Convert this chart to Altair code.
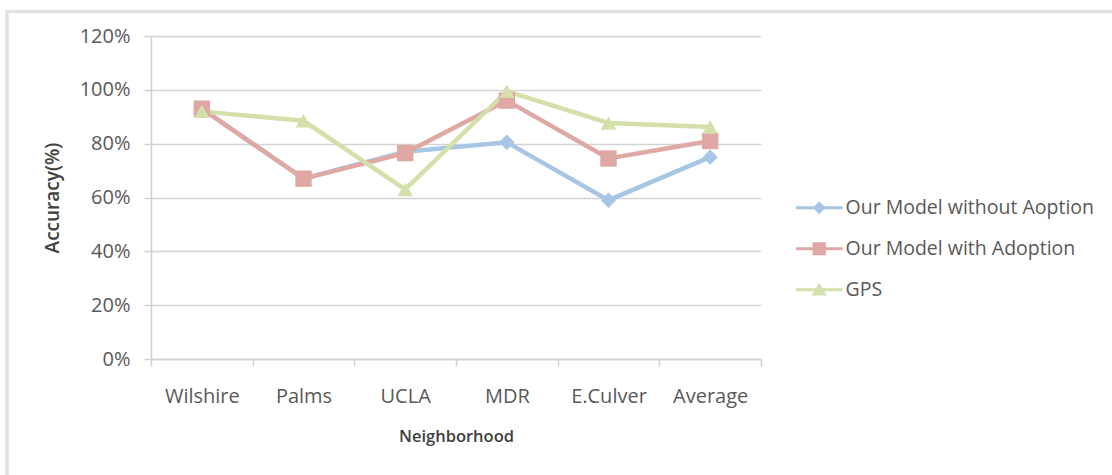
import altair as alt
import pandas as pd

neighborhoods = ["Wilshire", "Palms", "UCLA", "MDR", "E.Culver", "Average"]
series_names = ["Our Model without Aoption", "Our Model with Adoption", "GPS"]
without_adoption = [0.93, 0.67, 0.77, 0.805, 0.59, 0.75]
with_adoption = [0.93, 0.67, 0.765, 0.96, 0.745, 0.81]
gps = [0.92, 0.885, 0.63, 0.995, 0.877, 0.862]
colors = ["#a7c6e6", "#e0a8a5", "#d4e0aa"]
marker_shapes = ["diamond", "square", "triangle-up"]
marker_sizes = [240, 270, 240]
legend_paths = [
    "M-3.9,-0.25H3.9V0.25H-3.9Z M0,-1.1L1.1,0L0,1.1L-1.1,0Z",
    "M-3.9,-0.25H3.9V0.25H-3.9Z M-1.1,-1.1H1.1V1.1H-1.1Z",
    "M-3.9,-0.25H3.9V0.25H-3.9Z M0,-1.15L1.25,0.95H-1.25Z",
]

rows = []
for name, vals in zip(series_names, [without_adoption, with_adoption, gps]):
    for n, v in zip(neighborhoods, vals):
        rows.append({"Neighborhood": n, "series": name, "value": v})
df = pd.DataFrame(rows)

FONT = "Open Sans"
TFONT = "Open Sans"
color_scale = alt.Scale(domain=series_names, range=colors)

x_enc = alt.X(
    "Neighborhood:N",
    sort=neighborhoods,
    scale=alt.Scale(paddingInner=0, paddingOuter=0),
    axis=alt.Axis(
        title="Neighborhood",
        labelAngle=0,
        tickBand="extent",
        tickSize=7,
        tickColor="#d0d0d0",
        tickWidth=1.5,
        domainColor="#d0d0d0",
        domainWidth=1.5,
        labelFont=FONT,
        labelFontSize=20,
        labelColor="#595959",
        labelPadding=20,
        titleFont=TFONT,
        titleFontSize=16.5,
        titleFontWeight=600,
        titleColor="#404040",
        titlePadding=22,
        grid=False,
    ),
)
y_enc = alt.Y(
    "value:Q",
    scale=alt.Scale(domain=[0, 1.2], nice=False),
    axis=alt.Axis(
        title="Accuracy(%)",
        format=".0%",
        values=[0, 0.2, 0.4, 0.6, 0.8, 1.0, 1.2],
        tickSize=7,
        tickColor="#d0d0d0",
        tickWidth=1.5,
        domainColor="#d0d0d0",
        domainWidth=1.5,
        gridColor="#d4d4d4",
        gridWidth=1.5,
        labelFont=FONT,
        labelFontSize=20,
        labelColor="#595959",
        labelPadding=14,
        titleFont=TFONT,
        titleFontSize=19,
        titleFontWeight=600,
        titleColor="#404040",
        titlePadding=17,
    ),
)

base = alt.Chart(df)

legend_props = dict(
    title=None,
    orient="none",
    legendX=658.5,
    legendY=162,
    direction="vertical",
    padding=0,
    symbolSize=144,
    symbolOpacity=1,
    symbolStrokeWidth=0,
    labelOffset=16.5,
    labelFont=FONT,
    labelFontSize=19.5,
    labelColor="#595959",
    labelLimit=0,
    rowPadding=20,
)

legend_layer = base.mark_point(filled=True, opacity=0.001, size=144).encode(
    x=x_enc,
    y=y_enc,
    color=alt.Color("series:N", scale=color_scale, legend=alt.Legend(**legend_props)),
    shape=alt.Shape(
        "series:N",
        scale=alt.Scale(domain=series_names, range=legend_paths),
        legend=alt.Legend(**legend_props),
    ),
)

lines = base.mark_line(strokeWidth=4.5).encode(
    x=x_enc,
    y=y_enc,
    color=alt.Color("series:N", scale=color_scale, legend=None),
)

point_layers = []
for name, shp, sz in zip(series_names, marker_shapes, marker_sizes):
    point_layers.append(
        base.transform_filter(alt.datum.series == name)
        .mark_point(shape=shp, size=sz, filled=True, opacity=1, strokeWidth=0)
        .encode(
            x=x_enc,
            y=y_enc,
            color=alt.Color("series:N", scale=color_scale, legend=None),
        )
    )

frame_data = alt.Data(values=[{"k": 1}])
top_border = alt.Chart(frame_data).mark_rule(color="#e2e2e2", strokeWidth=3.5).encode(
    x=alt.value(-146), x2=alt.value(1000), y=alt.value(-24.5)
)
left_border = alt.Chart(frame_data).mark_rule(color="#e2e2e2", strokeWidth=3.5).encode(
    x=alt.value(-144), y=alt.value(-26), y2=alt.value(500)
)

chart = (
    alt.layer(legend_layer, top_border, left_border, lines, *point_layers)
    .properties(
        width=610,
        height=323,
        autosize=alt.AutoSizeParams(type="none"),
        padding={"left": 151, "top": 36, "right": 351, "bottom": 116},
        background="white",
    )
    .configure_view(stroke=None)
)

chart.save("out.html", embed_options={"renderer": "svg", "actions": False})
